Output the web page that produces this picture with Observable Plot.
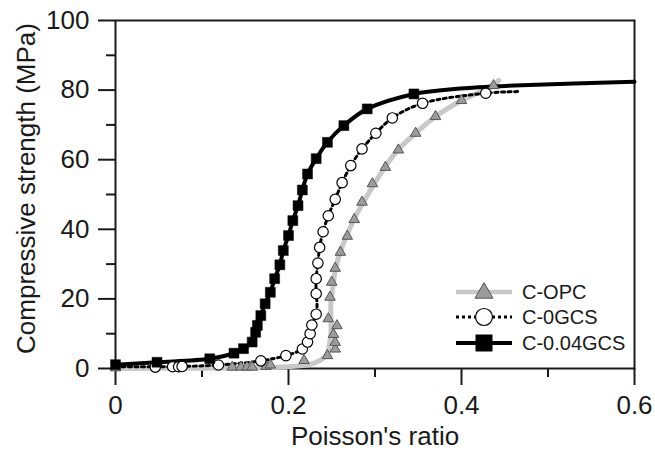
<!DOCTYPE html>
<html><head><meta charset="utf-8">
<script src="https://cdn.jsdelivr.net/npm/d3@7"></script>
<script src="https://cdn.jsdelivr.net/npm/@observablehq/plot@0.6"></script>
<style>html,body{margin:0;padding:0;background:#fff}svg{display:block}</style>
</head><body><div id="chart"></div>
<script>
// ---- data ----
const seriesNames = ["C-OPC", "C-0GCS", "C-0.04GCS"];

const xTicks = [0, 0.2, 0.4, 0.6];
const xMinorTicks = [0.1, 0.3, 0.5];
const yTicks = [0, 20, 40, 60, 80, 100];
const yMinorTicks = [10, 30, 50, 70, 90];

// C-OPC markers (triangles)
const opcMarkX = [0, 0.135, 0.145, 0.152, 0.158, 0.174, 0.179, 0.218, 0.245, 0.254, 0.254, 0.252, 0.256, 0.246, 0.248, 0.250, 0.254, 0.260, 0.268, 0.276, 0.285, 0.297, 0.312, 0.327, 0.347, 0.370, 0.400, 0.437];
const opcMarkY = [0.2, 0.4, 0.4, 0.4, 0.4, 0.6, 1.0, 2.3, 3.7, 5.6, 7.5, 9.8, 12.3, 14.3, 20.5, 24.8, 28.8, 33.4, 38.0, 42.8, 47.8, 53.1, 57.8, 62.8, 67.6, 72.4, 77.0, 81.3];
// C-OPC fitted line
const opcLineX = [0, 0.10, 0.15, 0.20, 0.225, 0.237, 0.244, 0.247, 0.249, 0.249, 0.249, 0.251, 0.254, 0.259, 0.267, 0.276, 0.287, 0.299, 0.312, 0.327, 0.347, 0.370, 0.400, 0.437, 0.443];
const opcLineY = [0, 0.1, 0.2, 0.5, 1.2, 2.4, 4.0, 6.5, 10, 15, 19, 23, 28, 33, 38, 43, 48, 53, 58, 63, 67.6, 72.4, 77.0, 81.3, 82.8];

// C-0GCS markers (open circles)
const gcs0MarkX = [0.046, 0.066, 0.073, 0.077, 0.119, 0.168, 0.197, 0.216, 0.222, 0.225, 0.227, 0.232, 0.232, 0.232, 0.234, 0.236, 0.240, 0.246, 0.254, 0.262, 0.272, 0.285, 0.301, 0.320, 0.355, 0.428];
const gcs0MarkY = [0.4, 0.5, 0.5, 0.6, 1.0, 2.2, 3.7, 5.6, 7.6, 10.0, 12.5, 15.6, 21.5, 25.8, 30.3, 34.8, 39.3, 43.9, 48.6, 53.4, 58.3, 63.1, 67.6, 72.0, 76.2, 79.1];
// C-0GCS dotted line
const gcs0LineX = [0, 0.046, 0.077, 0.119, 0.168, 0.197, 0.216, 0.222, 0.225, 0.227, 0.232, 0.233, 0.232, 0.232, 0.234, 0.236, 0.240, 0.246, 0.254, 0.262, 0.272, 0.285, 0.301, 0.320, 0.355, 0.428, 0.468];
const gcs0LineY = [0.5, 0.5, 0.6, 1.0, 2.2, 3.7, 5.6, 7.6, 10.0, 12.5, 15.6, 18.5, 21.5, 25.8, 30.3, 34.8, 39.3, 43.9, 48.6, 53.4, 58.3, 63.1, 67.6, 72.0, 76.2, 79.1, 79.6];

// C-0.04GCS markers (filled squares)
const gcs004MarkX = [0, 0.048, 0.109, 0.137, 0.148, 0.158, 0.162, 0.164, 0.168, 0.173, 0.179, 0.184, 0.190, 0.194, 0.200, 0.205, 0.211, 0.216, 0.222, 0.232, 0.245, 0.264, 0.291, 0.345];
const gcs004MarkY = [1.1, 1.8, 2.8, 4.4, 5.7, 7.6, 10.4, 12.4, 15.2, 18.6, 21.9, 25.8, 29.8, 33.9, 38.2, 42.5, 46.8, 51.3, 55.9, 60.3, 65.0, 69.8, 74.6, 78.9];
// C-0.04GCS line (continues past the last marker)
const gcs004LineX = [0, 0.048, 0.109, 0.137, 0.148, 0.158, 0.162, 0.164, 0.168, 0.173, 0.179, 0.184, 0.190, 0.194, 0.200, 0.205, 0.211, 0.216, 0.222, 0.232, 0.245, 0.264, 0.291, 0.345, 0.38, 0.42, 0.47, 0.53, 0.60];
const gcs004LineY = [1.1, 1.8, 2.8, 4.4, 5.7, 7.6, 10.4, 12.4, 15.2, 18.6, 21.9, 25.8, 29.8, 33.9, 38.2, 42.5, 46.8, 51.3, 55.9, 60.3, 65.0, 69.8, 74.6, 78.9, 80.0, 80.8, 81.4, 81.9, 82.4];

const zip = (xs, ys) => xs.map((x, i) => ({px: x, cs: ys[i]}));

const FONT = "'Liberation Sans', Arial, Helvetica, sans-serif";
const INK = "#1a1a1a";
const AXIS_FONT = 26;

const plot = Plot.plot({
  width: 655,
  height: 452,
  marginLeft: 115,
  marginRight: 21,
  marginTop: 20,
  marginBottom: 84,
  style: {fontFamily: FONT, background: "#fff", color: INK, overflow: "visible"},
  x: {domain: [0, 0.6], label: null},
  y: {domain: [0, 100], label: null},
  marks: [
    Plot.axisY(yMinorTicks, {tickSize: 9, strokeWidth: 2, tickFormat: () => "", label: null}),
    Plot.axisY(yTicks, {tickSize: 17, tickPadding: 9, strokeWidth: 2, fontSize: AXIS_FONT, label: null}),
    Plot.axisX(xMinorTicks, {tickSize: 9, strokeWidth: 2, tickFormat: () => "", label: null}),
    Plot.axisX(xTicks, {tickSize: 17, tickPadding: 10, strokeWidth: 2, fontSize: AXIS_FONT, tickFormat: d => String(d), label: null}),
    Plot.frame({stroke: INK, strokeWidth: 2}),
    Plot.line(zip(opcLineX, opcLineY), {x: "px", y: "cs", stroke: "#c8c8c8", strokeWidth: 5, curve: "catmull-rom"}),
    Plot.line(zip(gcs0LineX, gcs0LineY), {x: "px", y: "cs", stroke: "#000", strokeWidth: 3, strokeDasharray: "3,3.5", curve: "catmull-rom"}),
    Plot.line(zip(gcs004LineX, gcs004LineY), {x: "px", y: "cs", stroke: "#000", strokeWidth: 4, curve: "catmull-rom"}),
    Plot.dot(zip(opcMarkX, opcMarkY), {x: "px", y: "cs", symbol: "triangle", r: 3.9, fill: "#9c9c9c", stroke: "#555", strokeWidth: 1}),
    Plot.dot(zip(gcs0MarkX, gcs0MarkY), {x: "px", y: "cs", symbol: "circle", r: 5.2, fill: "#fff", stroke: "#000", strokeWidth: 1.2}),
    Plot.dot(zip(gcs004MarkX, gcs004MarkY), {x: "px", y: "cs", symbol: "square", r: 5.6, fill: "#000", stroke: "#000", strokeWidth: 0.5}),
    Plot.text(["Poisson's ratio"], {frameAnchor: "bottom", textAnchor: "middle", lineAnchor: "middle", dy: 68, fontSize: AXIS_FONT, fill: INK}),
    Plot.text(["Compressive strength (MPa)"], {frameAnchor: "left", textAnchor: "middle", lineAnchor: "middle", rotate: -90, dx: -89, dy: -6, fontSize: AXIS_FONT, fill: INK})
  ]
});

// ---- legend (inside the plot, lower right) ----
const svg = d3.select(plot);
const legendX0 = 456, legendX1 = 512, legendTextX = 522;
const legendRowY = [292, 317, 343];
const g = svg.append("g").attr("font-family", FONT).attr("font-size", 20).attr("fill", INK).attr("text-anchor", "start");
seriesNames.forEach((name, i) => {
  const y = legendRowY[i];
  const mid = (legendX0 + legendX1) / 2;
  const row = g.append("g");
  const ln = row.append("line").attr("x1", legendX0).attr("x2", legendX1).attr("y1", y).attr("y2", y);
  if (i === 0) {
    ln.attr("stroke", "#c8c8c8").attr("stroke-width", 4.5);
    row.append("path").attr("transform", `translate(${mid},${y + 1})`)
      .attr("d", d3.symbol(d3.symbolTriangle, 140)()).attr("fill", "#9c9c9c").attr("stroke", "#555").attr("stroke-width", 1);
  } else if (i === 1) {
    ln.attr("stroke", "#000").attr("stroke-width", 3).attr("stroke-dasharray", "3,3");
    row.append("circle").attr("cx", mid).attr("cy", y).attr("r", 8.5).attr("fill", "#fff").attr("stroke", "#000").attr("stroke-width", 1.2);
  } else {
    ln.attr("stroke", "#000").attr("stroke-width", 4);
    row.append("rect").attr("x", mid - 8.5).attr("y", y - 8.5).attr("width", 17).attr("height", 17).attr("fill", "#000");
  }
  row.append("text").attr("x", legendTextX).attr("y", y).attr("dy", "0.35em").attr("text-anchor", "start").text(name);
});

document.getElementById("chart").appendChild(plot);
</script>
</body></html>
